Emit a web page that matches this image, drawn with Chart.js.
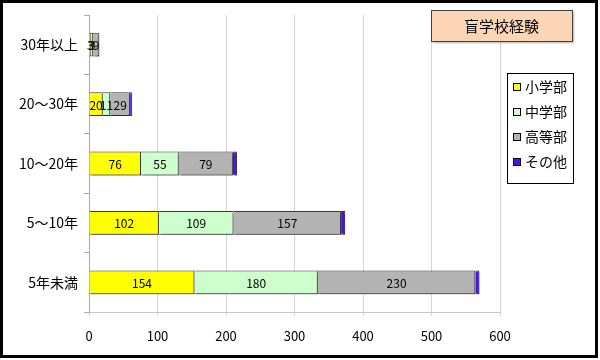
<!DOCTYPE html>
<html>
<head>
<meta charset="utf-8">
<script src="https://cdn.jsdelivr.net/npm/chart.js@4"></script>
<style>
  body { margin: 0; background: #fff; }
  #wrap { width: 600px; height: 360px; }
</style>
</head>
<body>
<div id="wrap"><canvas id="myChart" width="600" height="360"></canvas></div>
<script>
// data
var categories = ['30年以上', '20〜30年', '10〜20年', '5〜10年', '5年未満'];
var seriesNames = ['小学部', '中学部', '高等部', 'その他'];
var shogakubu = [3, 20, 76, 102, 154];
var chugakubu = [3, 11, 55, 109, 180];
var kotobu = [9, 29, 79, 157, 230];
var sonota = [0, 3, 6, 6, 6];
var xTicks = [0, 100, 200, 300, 400, 500, 600];

var colors = ['#ffff00', '#ccffcc', '#b3b3b3', '#4a10f5'];
var font = '"Noto Sans CJK JP", "Noto Sans", sans-serif';

var values = [shogakubu, chugakubu, kotobu, sonota];
var datasets = values.map(function (v, i) {
    return {
        label: seriesNames[i],
        data: v,
        backgroundColor: colors[i],
        borderColor: '#3a3a3a',
        borderWidth: 1,
        barPercentage: 0.4,
        categoryPercentage: 1
    };
});

// shadow under bars + value labels
var barExtras = {
    id: 'barExtras',
    beforeDatasetsDraw: function (chart) {
        var ctx = chart.ctx;
        ctx.save();
        ctx.shadowColor = 'rgba(0,0,0,0.35)';
        ctx.shadowOffsetX = 2;
        ctx.shadowOffsetY = 2;
        ctx.shadowBlur = 2;
    },
    afterDatasetsDraw: function (chart) {
        var ctx = chart.ctx;
        ctx.restore();
        ctx.save();
        ctx.font = '12px ' + font;
        ctx.fillStyle = '#000';
        ctx.textAlign = 'center';
        ctx.textBaseline = 'middle';
        for (var d = 0; d < 3; d++) {
            var meta = chart.getDatasetMeta(d);
            meta.data.forEach(function (bar, i) {
                ctx.fillText(String(values[d][i]), (bar.x + bar.base) / 2, bar.y + 1);
            });
        }
        ctx.restore();
    }
};

// frame, title box, legend box
var decor = {
    id: 'decor',
    afterDraw: function (chart) {
        var ctx = chart.ctx;
        ctx.save();
        // title
        ctx.shadowColor = 'rgba(0,0,0,0.3)';
        ctx.shadowOffsetX = 2;
        ctx.shadowOffsetY = 2;
        ctx.shadowBlur = 2;
        ctx.fillStyle = '#fcd5b5';
        ctx.fillRect(431, 10, 141, 31);
        ctx.shadowColor = 'transparent';
        ctx.strokeStyle = '#404040';
        ctx.lineWidth = 1;
        ctx.strokeRect(431.5, 10.5, 141, 31);
        ctx.fillStyle = '#000';
        ctx.font = '15px ' + font;
        ctx.textAlign = 'center';
        ctx.textBaseline = 'middle';
        ctx.fillText('盲学校経験', 501.5, 26);

        // legend
        ctx.fillStyle = '#fff';
        ctx.fillRect(507, 73, 66, 110);
        ctx.strokeStyle = '#000';
        ctx.strokeRect(507.5, 73.5, 66, 110);
        ctx.font = '14px ' + font;
        ctx.textAlign = 'left';
        seriesNames.forEach(function (name, i) {
            var y = 87 + i * 25;
            ctx.fillStyle = colors[i];
            ctx.fillRect(513, y - 4, 8, 8);
            ctx.strokeStyle = '#000';
            ctx.strokeRect(513.5, y - 3.5, 7, 7);
            ctx.fillStyle = '#000';
            ctx.fillText(name, 525, y);
        });

        // outer frame
        ctx.strokeStyle = '#000';
        ctx.lineWidth = 3;
        ctx.strokeRect(1.5, 1.5, 595, 355);
        ctx.restore();
    }
};

var ctx = document.getElementById('myChart').getContext('2d');

var myChart = new Chart(ctx, {
    type: 'bar',
    data: { labels: categories, datasets: datasets },
    options: {
        indexAxis: 'y',
        responsive: false,
        animation: false,
        layout: { padding: { top: 15, right: 100, bottom: 0, left: 0 } },
        plugins: {
            legend: { display: false },
            title: { display: false },
            tooltip: { enabled: false }
        },
        scales: {
            x: {
                stacked: true,
                min: 0,
                max: 600,
                afterBuildTicks: function (scale) {
                    scale.ticks = xTicks.map(function (v) { return { value: v }; });
                },
                afterFit: function (scale) { scale.height = 48; },
                grid: { color: '#d6d6d6', tickLength: 4 },
                border: { color: '#c8c8c8' },
                ticks: { color: '#000', padding: 12, font: { family: font, size: 13 } }
            },
            y: {
                stacked: true,
                afterFit: function (scale) { scale.width = 89; },
                grid: { offset: true, drawOnChartArea: false, tickLength: 5, color: '#aaa' },
                border: { color: '#aaa' },
                ticks: { color: '#000', padding: 6, font: { family: font, size: 14 } }
            }
        }
    },
    plugins: [barExtras, decor]
});
</script>
</body>
</html>
